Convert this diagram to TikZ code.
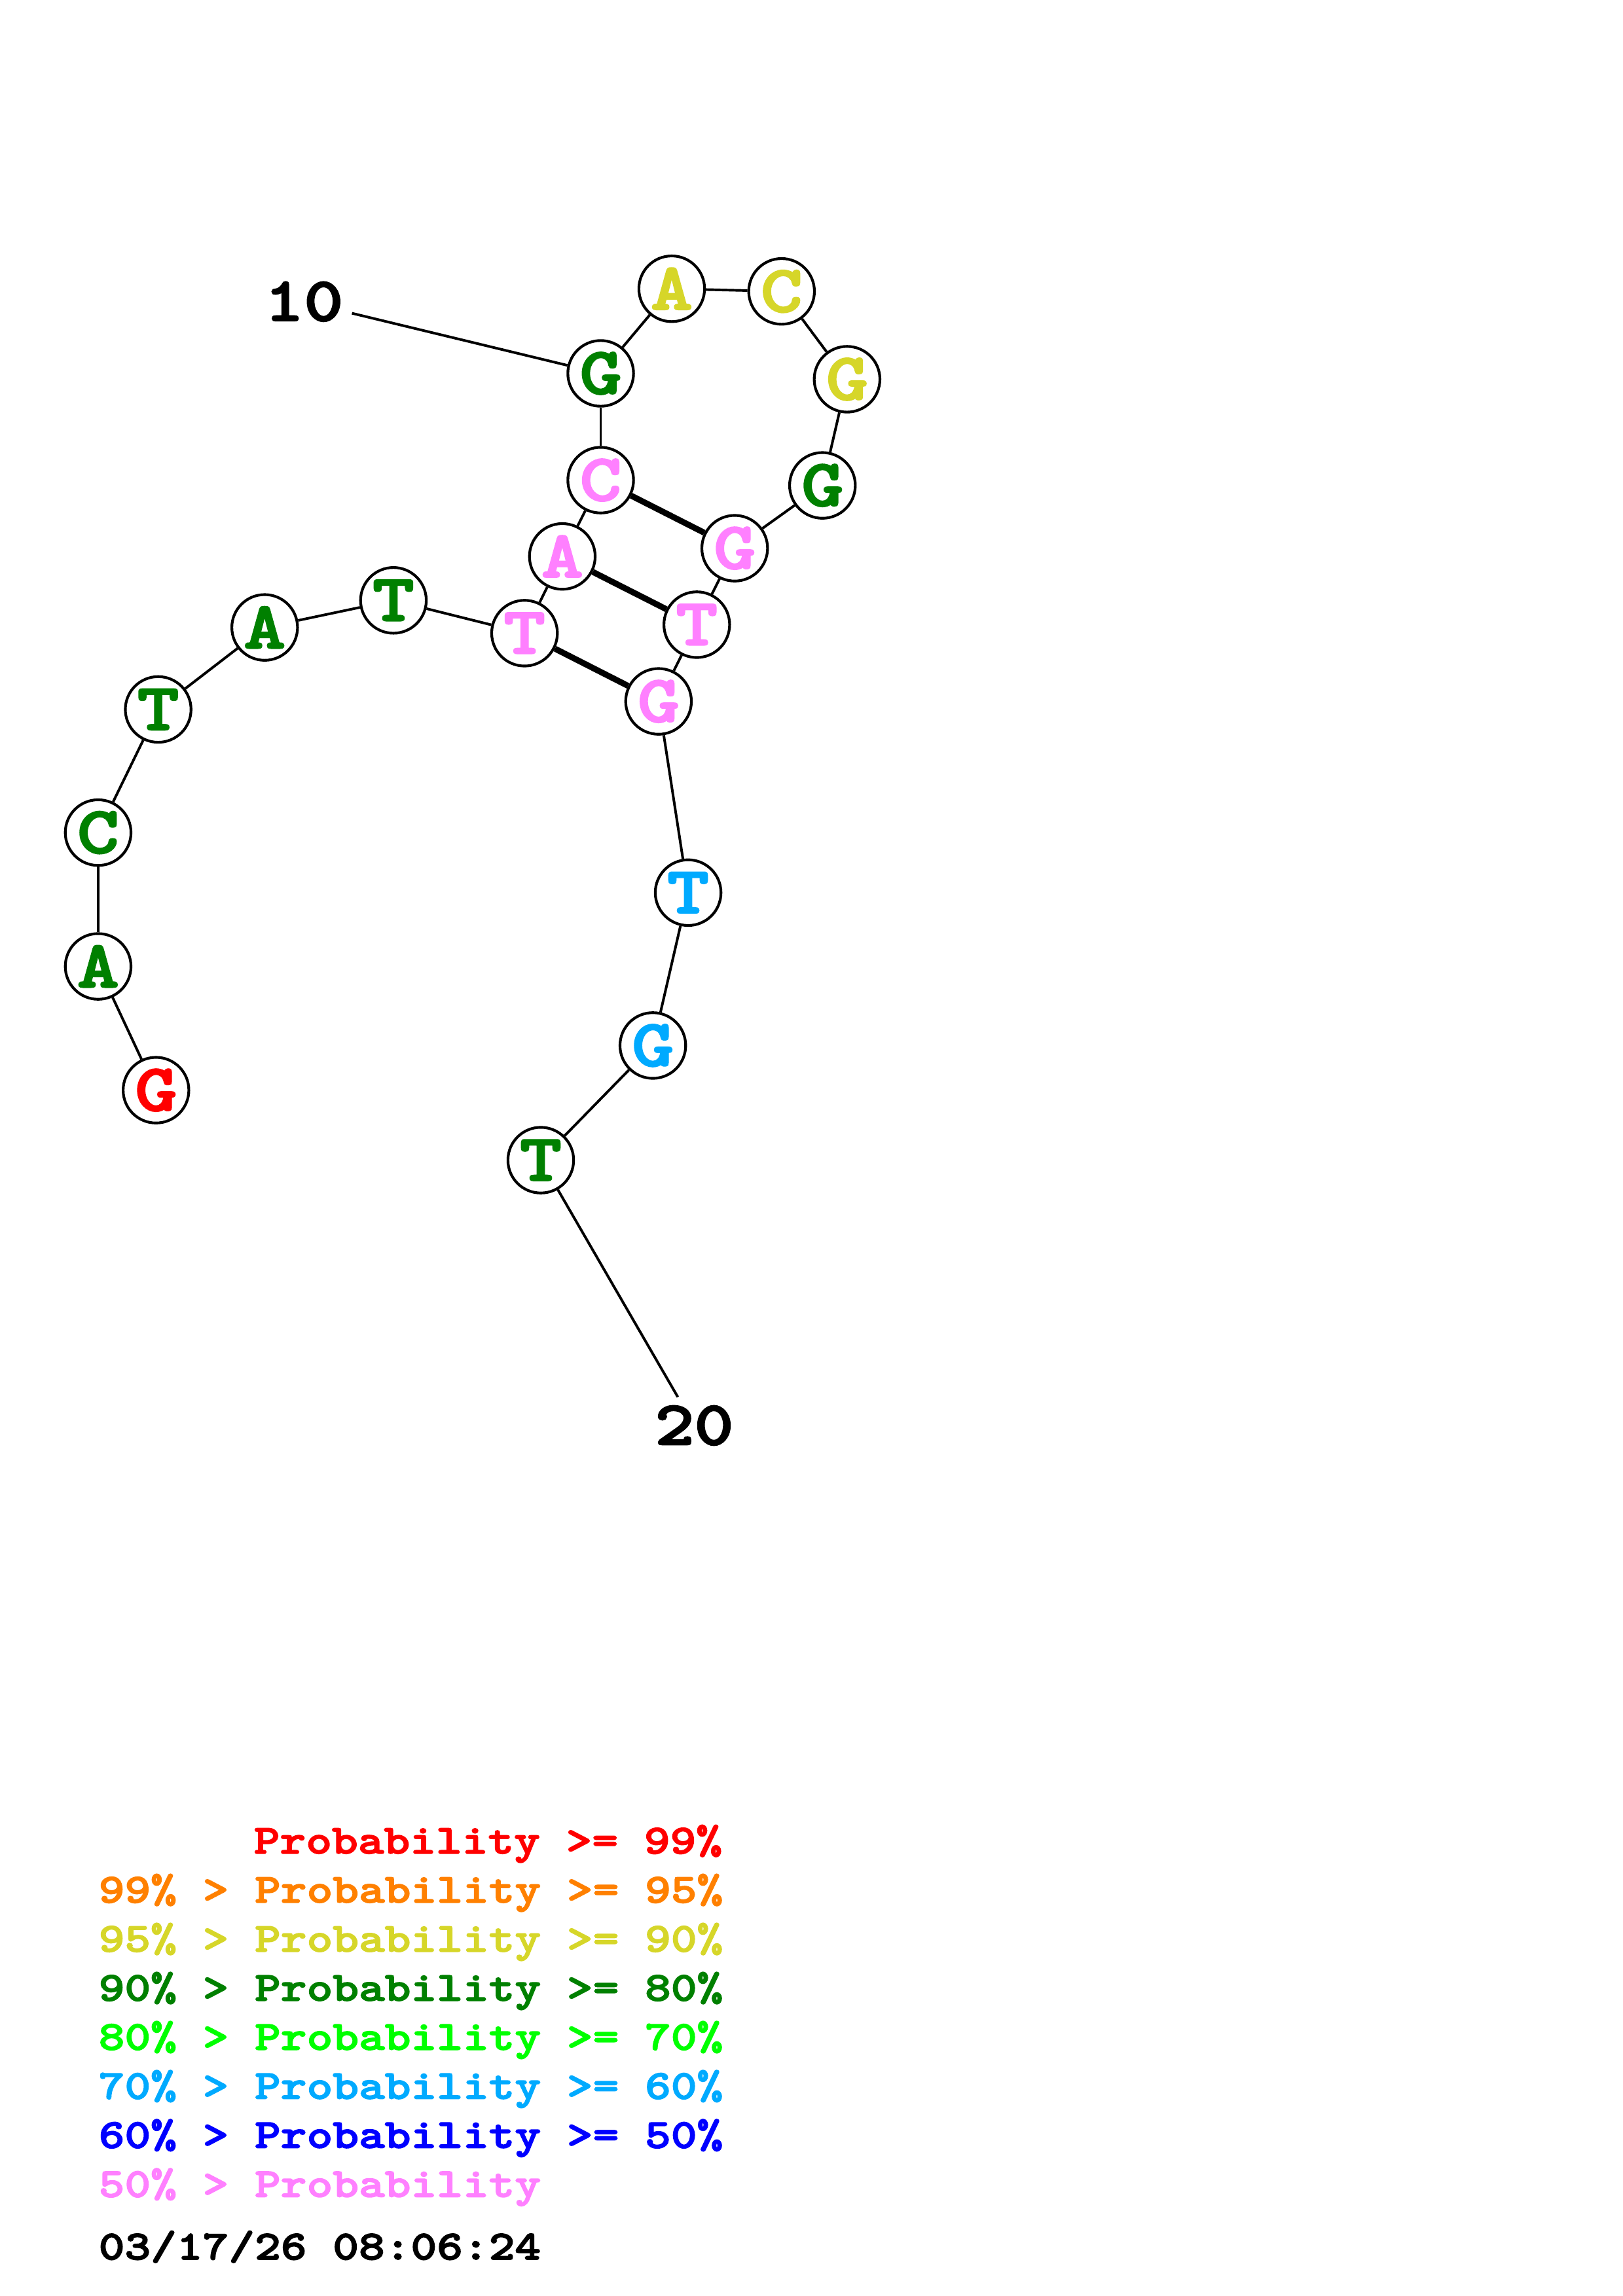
\documentclass[tikz,border=0pt]{standalone}
\usepackage{fontspec}
\newfontfamily\basefont{lmmonolt10-bold}[Extension=.otf,FakeStretch=1.2,FakeBold=2.5]
\definecolor{pnn}{RGB}{255,0,0}
\definecolor{pnf}{RGB}{255,128,0}
\definecolor{pnz}{RGB}{214,214,41}
\definecolor{pe}{RGB}{0,128,0}
\definecolor{ps}{RGB}{0,255,0}
\definecolor{px}{RGB}{0,170,255}
\definecolor{pf}{RGB}{0,0,255}
\definecolor{plow}{RGB}{255,128,255}
\tikzset{
	base/.style={circle,draw=black,fill=white,line width=1pt,minimum size=0.85cm,inner sep=0pt,font=\basefont\fontsize{24.5}{24.5}\selectfont},
	numlabel/.style={inner sep=3pt,font=\basefont\fontsize{23}{23}\selectfont},
	legend/.style={anchor=base west,inner sep=0pt,font=\basefont\fontsize{15.2}{15.2}\selectfont},
	every edge/.append style={line width=0.95pt},
	pair/.style={-,line width=2.2pt}
}
\begin{document}
\begin{tikzpicture}[x=0.018953cm,y=-0.018953cm]
		\useasboundingbox (0,0) rectangle (1108,1568);
		\node[base,text=pnn] (x1) at (106.5,744.5) {G};
		\node[base,text=pe] (x2) at (67,660) {A}
			edge[-] (x1);
		\node[base,text=pe] (x3) at (67,568.6) {C}
			edge[-] (x2);
		\node[base,text=pe] (x4) at (108,484.5) {T}
			edge[-] (x3);
		\node[base,text=pe] (x5) at (180.7,428.5) {A}
			edge[-] (x4);
		\node[base,text=pe] (x6) at (268.6,410) {T}
			edge[-] (x5);
		\node[base,text=plow] (x7) at (358.1,432.4) {T}
			edge[-] (x6);
		\node[base,text=plow] (x8) at (383.9,380) {A}
			edge[-] (x7);
		\node[base,text=plow] (x9) at (410.1,327.9) {C}
			edge[-] (x8);
		\node[base,text=pe] (x10) at (410.1,255) {G}
			edge[-] (x9);
		\node[base,text=pnz] (x11) at (458.6,197.2) {A}
			edge[-] (x10);
		\node[base,text=pnz] (x12) at (533.6,199) {C}
			edge[-] (x11);
		\node[base,text=pnz] (x13) at (578.3,259) {G}
			edge[-] (x12);
		\node[base,text=pe] (x14) at (561.5,331.5) {G}
			edge[-] (x13);
		\node[base,text=plow] (x15) at (501.6,374.4) {G}
			edge[-] (x14)
			edge[pair] (x9);
		\node[base,text=plow] (x16) at (475.7,426.6) {T}
			edge[-] (x15)
			edge[pair] (x8);
		\node[base,text=plow] (x17) at (449.6,479) {G}
			edge[-] (x16)
			edge[pair] (x7);
		\node[base,text=px] (x18) at (469.8,609.6) {T}
			edge[-] (x17);
		\node[base,text=px] (x19) at (445.7,714) {G}
			edge[-] (x18);
		\node[base,text=pe] (x20) at (369.2,792.3) {T}
			edge[-] (x19);
		% position labels
		\node[numlabel] (l10) at (207.5,206) {10}
			edge[-] (x10);
		\node[numlabel] (l20) at (474,973.5) {20}
			edge[-] (x20);
		% legend
		\node[legend,text=pnn] (k1) at (173,1265.8) {Probability >= 99\%};
		\node[legend,text=pnf] (k2) at (67,1299.3) {99\% > Probability >= 95\%};
		\node[legend,text=pnz] (k3) at (67,1332.8) {95\% > Probability >= 90\%};
		\node[legend,text=pe] (k4) at (67,1366.3) {90\% > Probability >= 80\%};
		\node[legend,text=ps] (k5) at (67,1399.8) {80\% > Probability >= 70\%};
		\node[legend,text=px] (k6) at (67,1433.3) {70\% > Probability >= 60\%};
		\node[legend,text=pf] (k7) at (67,1466.8) {60\% > Probability >= 50\%};
		\node[legend,text=plow] (k8) at (67,1500.3) {50\% > Probability};
		\node[legend] (date) at (67,1543) {03/17/26 08:06:24};
	\end{tikzpicture}
\end{document}
